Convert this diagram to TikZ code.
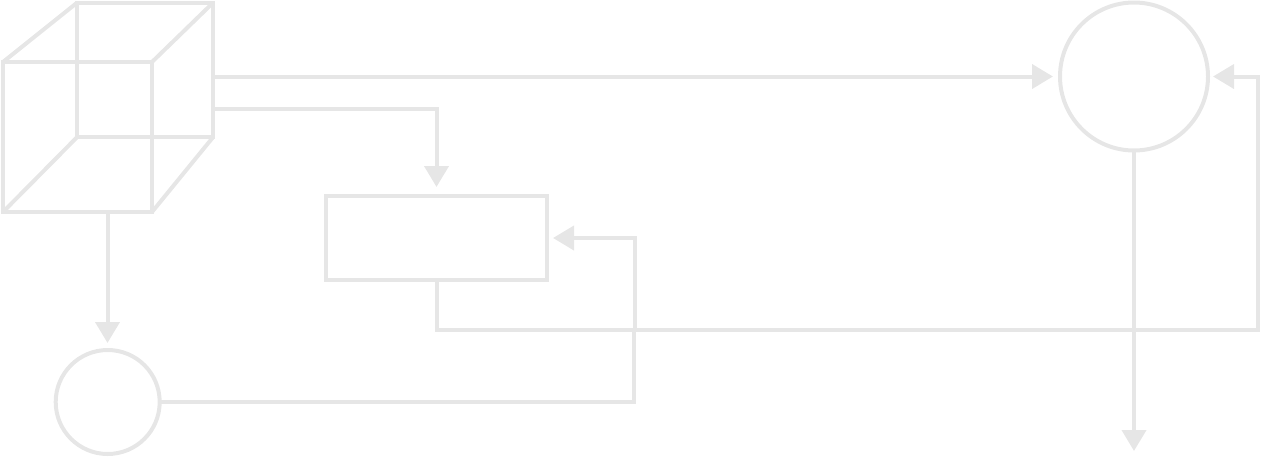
\documentclass[tikz,border=0pt]{standalone}
\usetikzlibrary{arrows.meta}
\definecolor{palegray}{HTML}{E6E6E6}
\tikzset{
    wire/.style={draw=palegray, line width=4pt, line join=miter},
    arrowwire/.style={wire, -{Triangle[length=21pt,width=24pt]}},
    boxnode/.style={wire, rectangle, inner sep=0pt, outer sep=0pt},
    circlenode/.style={wire, circle, inner sep=0pt, outer sep=0pt},
}
\begin{document}
\begin{tikzpicture}[x=1pt, y=-1pt]

    \useasboundingbox (0,0) rectangle (1261,456);

    % cube
    \node[boxnode, minimum width=136pt, minimum height=134.5pt] (cubeback) at (145,70) {};
    \node[boxnode, minimum width=149pt, minimum height=150pt] (cubefront) at (77.5,137) {};
    \draw[wire] (cubefront.north west) -- (cubeback.north west);
    \draw[wire] (cubefront.north east) -- (cubeback.north east);
    \draw[wire] (cubefront.south west) -- (cubeback.south west);
    \draw[wire] (cubefront.south east) -- (cubeback.south east);

    \node[boxnode, minimum width=221pt, minimum height=84pt] (plate) at (436.5,238) {};
    \node[circlenode, minimum size=148pt] (bigcircle) at (1134,76.5) {};
    \node[circlenode, minimum size=104pt] (smallcircle) at (107.7,402) {};

    \coordinate (output) at (1134,451);
    \coordinate (cubedown) at (107.5,212);
    \coordinate (cubeplate) at (213,109);
    \coordinate (cubebig) at (213,76.5);
    \coordinate (loopright) at (1258,330);
    \coordinate (loopleft) at (436.5,330);
    \coordinate (risebottom) at (634,402);
    \coordinate (jogone) at (634,330);
    \coordinate (jogtwo) at (635,330);
    \coordinate (risetop) at (635,238);

    \draw[arrowwire, shorten >=7pt] (cubebig) -- (bigcircle.west);
    \draw[arrowwire, shorten >=9pt] (cubeplate) -| (plate.north);
    \draw[arrowwire, shorten >=7pt] (cubedown) -- (smallcircle.north -| cubedown);
    \draw[arrowwire] (bigcircle.south) -- (output);
    \draw[arrowwire, shorten >=5pt] (plate.south) -- (loopleft) -- (loopright) |- (bigcircle.east);
    \draw[arrowwire, shorten >=6pt] (smallcircle.east) -- (risebottom) -- (jogone) -- (jogtwo) -- (risetop) -- (plate.east);

\end{tikzpicture}
\end{document}
